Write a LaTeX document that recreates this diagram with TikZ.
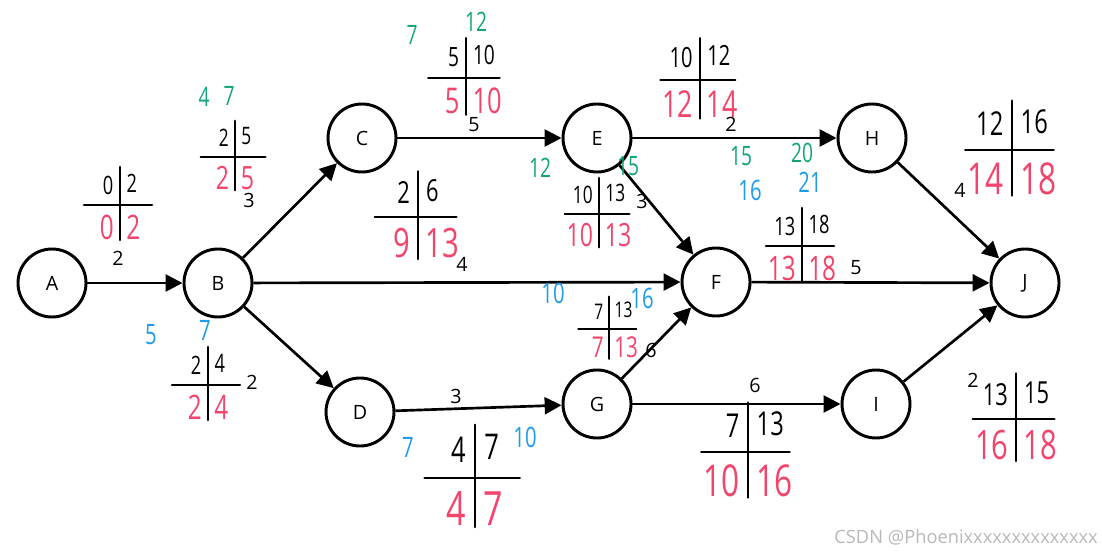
\documentclass[tikz,border=0pt]{standalone}
\usepackage{fontspec}
\setmainfont{Open Sans}
\newfontfamily\handfont[FakeStretch=0.72]{Open Sans}
\usetikzlibrary{arrows.meta}

\definecolor{lateRed}{HTML}{F2456C}
\definecolor{esGreen}{HTML}{12A57A}
\definecolor{lsBlue}{HTML}{1E9BEA}

% time cross: name, centre x, centre y, scale, ES, EF, LS, LF
\newcommand{\timecross}[8]{%
  \begin{scope}[shift={(#2,#3)}, scale=#4, transform shape]
    \draw[cross line] (-36,0) -- (32,0) (0,-38) -- (0,35);
    \node[early num, anchor=east] (#1es) at (-5,-20) {#5};
    \node[early num, anchor=west] (#1ef) at (5,-22) {#6};
    \node[late num, anchor=east] (#1ls) at (-6,22) {#7};
    \node[late num, anchor=west] (#1lf) at (6,22) {#8};
  \end{scope}}

\begin{document}
\begin{tikzpicture}[x=0.025cm, y=-0.025cm, >={Triangle[length=12pt,width=12pt]},
  event/.style={circle, draw, line width=2.1pt, minimum size=1.7cm, inner sep=0pt,
    font=\fontsize{14}{16}\selectfont},
  act/.style={->, line width=1.9pt},
  dur/.style={inner sep=0.5pt, font=\fontsize{14}{16}\selectfont},
  cross line/.style={line width=1.8pt, line cap=round},
  early num/.style={inner sep=1pt, font=\handfont\fontsize{18}{18}\selectfont},
  late num/.style={inner sep=0pt, text=lateRed, font=\handfont\fontsize{24}{24}\selectfont},
  green num/.style={inner sep=1pt, text=esGreen, font=\handfont\fontsize{19}{19}\selectfont},
  blue num/.style={inner sep=1pt, text=lsBlue, font=\handfont\fontsize{20}{20}\selectfont}]
\useasboundingbox (0,0) rectangle (1102,556);

% events
\node[event] (A) at (52,283) {A};
\node[event] (B) at (218,283) {B};
\node[event] (C) at (362,138) {C};
\node[event] (D) at (360,412) {D};
\node[event] (E) at (597,138) {E};
\node[event] (F) at (716,282) {F};
\node[event] (G) at (597,404) {G};
\node[event] (H) at (872,138) {H};
\node[event] (I) at (876,404) {I};
\node[event] (J) at (1025,283) {J};

% activities
\draw[act] (A) -- (B);
\draw[act] (B) -- (C);
\draw[act] (B) -- (F);
\draw[act] (B) -- (D);
\draw[act] (C) -- (E);
\draw[act] (E) -- (H);
\draw[act] (E) -- (F);
\draw[act] (D) -- (G);
\draw[act] (G) -- (F);
\draw[act] (G) -- (I);
\draw[act] (F) -- (J);
\draw[act] (H) -- (J);
\draw[act] (I) -- (J);

% durations
\node[dur] (dAB) at (118,258) {2};
\node[dur] (dBC) at (249,200) {3};
\node[dur] (dBF) at (462,264) {4};
\node[dur] (dBD) at (252,382) {2};
\node[dur] (dCE) at (474,125) {5};
\node[dur] (dEH) at (731,124) {2};
\node[dur] (dEF) at (642,201) {3};
\node[dur] (dDG) at (456,396) {3};
\node[dur] (dGF) at (651,350) {6};
\node[dur] (dGI) at (755,385) {6};
\node[dur] (dFJ) at (856,268) {5};
\node[dur] (dHJ) at (960,190) {4};
\node[dur] (dIJ) at (973,380) {2};

% ES | EF over LS | LF
\timecross{ab}{120}{205}{1}{0}{2}{0}{2}
\timecross{bc}{235}{157}{0.95}{2}{5}{2}{5}
\timecross{ce}{466}{78}{1.05}{5}{10}{5}{10}
\timecross{eh}{700}{80}{1.1}{10}{12}{12}{14}
\timecross{ef}{599}{214}{0.95}{10}{13}{10}{13}
\timecross{bf}{418}{217}{1.2}{2}{6}{9}{13}
\timecross{bd}{208}{385}{1}{2}{4}{2}{4}
\timecross{dg}{475}{478}{1.4}{4}{7}{4}{7}
\timecross{gf}{609}{329}{0.85}{7}{13}{7}{13}
\timecross{gi}{748}{452}{1.3}{7}{13}{10}{16}
\timecross{fj}{802}{246}{1}{13}{18}{13}{18}
\timecross{hj}{1012}{150}{1.3}{12}{16}{14}{18}
\timecross{ij}{1016}{419}{1.2}{13}{15}{16}{18}

% green notes
\node[green num] (gbc1) at (204,97) {4};
\node[green num] (gbc2) at (229,96) {7};
\node[green num] (gce1) at (412,35) {7};
\node[green num] (gce2) at (476,22) {12};
\node[green num] (gef1) at (540,168) {12};
\node[green num] (gef2) at (628,166) {15};
\node[green num] (gfj1) at (741,156) {15};
\node[green num] (gfj2) at (802,153) {20};

% blue notes
\node[blue num] (bbd1) at (151,335) {5};
\node[blue num] (bbd2) at (205,330) {7};
\node[blue num] (bdg1) at (408,447) {7};
\node[blue num] (bdg2) at (525,437) {10};
\node[blue num] (bgf1) at (553,293) {10};
\node[blue num] (bgf2) at (642,298) {16};
\node[blue num] (bfj1) at (750,190) {16};
\node[blue num] (bfj2) at (810,182) {21};

\node[anchor=east, inner sep=0pt, text=black!28, font=\fontsize{13}{15}\selectfont]
  (mark) at (1098,537) {CSDN @Phoenixxxxxxxxxxxxxx};
\end{tikzpicture}
\end{document}
